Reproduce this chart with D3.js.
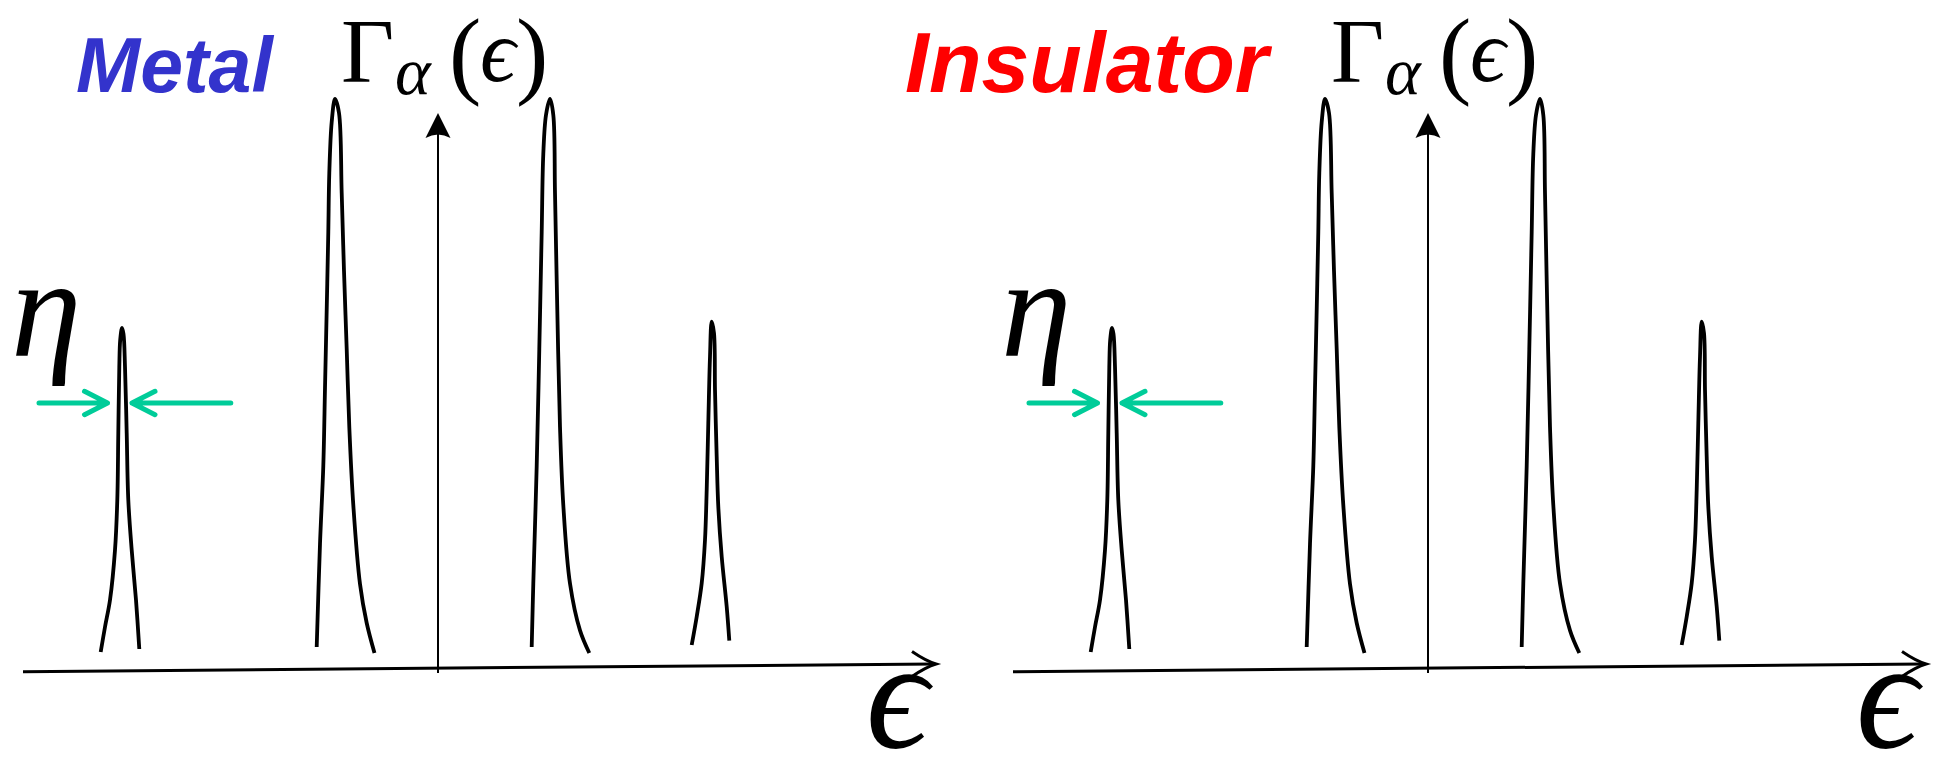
<!DOCTYPE html>
<html>
<head>
<meta charset="utf-8">
<script src="https://cdn.jsdelivr.net/npm/d3@7"></script>
<style>
  html, body { margin: 0; padding: 0; background: #fff; }
  svg { display: block; }
</style>
</head>
<body>
<svg id="chart" width="1935" height="757"></svg>
<script>
// Two panels: same set of broadened levels Γα(ϵ), labelled Metal / Insulator
const panelNames = ["Metal", "Insulator"];
const panelColors = ["#3333CC", "#FF0000"];

// Each peak outline as [energy, Γ] points, left foot -> tip -> right foot
const peak1 = [[-3.373,0.15],[-3.33,0.40],[-3.28,0.67],[-3.23,1.17],[-3.207,1.67],[-3.197,2.34],[-3.187,3.00],[-3.178,3.27],[-3.16,3.39],[-3.145,3.33],[-3.13,3.00],[-3.113,2.34],[-3.097,1.67],[-3.063,1.17],[-3.02,0.67],[-2.987,0.18]];
const peak2 = [[-1.213,0.20],[-1.18,1.23],[-1.147,2.01],[-1.13,2.79],[-1.113,3.57],[-1.097,4.35],[-1.087,4.94],[-1.063,5.45],[-1.03,5.68],[-0.99,5.54],[-0.963,4.74],[-0.94,3.96],[-0.913,3.18],[-0.887,2.40],[-0.847,1.62],[-0.78,0.83],[-0.713,0.44],[-0.635,0.14]];
const peak3 = [[0.937,0.20],[0.953,0.835],[0.987,2.01],[1.013,3.18],[1.037,4.35],[1.053,5.13],[1.08,5.52],[1.12,5.68],[1.153,5.52],[1.17,4.74],[1.193,3.57],[1.22,2.40],[1.253,1.62],[1.32,0.835],[1.42,0.366],[1.513,0.14]];
const peak4 = [[2.537,0.22],[2.587,0.503],[2.637,0.837],[2.67,1.27],[2.687,1.77],[2.703,2.437],[2.72,3.103],[2.737,3.453],[2.76,3.337],[2.77,2.77],[2.787,2.103],[2.803,1.603],[2.837,1.103],[2.887,0.603],[2.913,0.263]];
const peaks = [peak1, peak2, peak3, peak4];

// Energy axis ends (slightly sloped baseline) and Γ axis extent
const energyAxisEnds = [[-4.15, -0.047], [4.98, 0.03]];
const gammaAxisEnds = [[0, -0.06], [0, 5.54]];

// Width marker η around the first peak: [from energy, to energy] at a Γ level
const etaLevel = 2.64;
const etaArrows = [[-3.99, -3.305], [-2.072, -3.06]];

const panelOffset = 990;

const svg = d3.select("#chart");
svg.append("rect").attr("width", 1935).attr("height", 757).attr("fill", "#fff");

const x = d3.scaleLinear().domain([-4.15, 4.98]).range([23, 936]);
const y = d3.scaleLinear().domain([0, 5.54]).range([667, 113]);

const line = d3.line().x(d => x(d[0])).y(d => y(d[1])).curve(d3.curveCatmullRom.alpha(0.5));

const serif = "'Liberation Serif', 'DejaVu Serif', serif";

panelNames.forEach((name, i) => {
  const g = svg.append("g").attr("transform", `translate(${i * panelOffset},0)`);

  // energy axis
  const [a0, a1] = energyAxisEnds;
  g.append("line")
    .attr("x1", x(a0[0])).attr("y1", y(a0[1]))
    .attr("x2", x(a1[0]) - 2).attr("y2", y(a1[1]))
    .attr("stroke", "#000").attr("stroke-width", 3);
  const tx = x(a1[0]), ty = y(a1[1]);
  g.append("path")
    .attr("d", `M${tx - 24},${ty - 12.5} Q${tx - 10},${ty - 3} ${tx},${ty} Q${tx - 10},${ty + 3} ${tx - 24},${ty + 12.5}`)
    .attr("fill", "none").attr("stroke", "#000").attr("stroke-width", 3)
    .attr("stroke-linecap", "butt");

  // Γ axis
  const [v0, v1] = gammaAxisEnds;
  g.append("line")
    .attr("x1", x(v0[0])).attr("y1", y(v0[1]))
    .attr("x2", x(v1[0])).attr("y2", y(v1[1]) + 12)
    .attr("stroke", "#000").attr("stroke-width", 2);
  const vx = x(v1[0]), vy = y(v1[1]);
  g.append("path")
    .attr("d", `M${vx},${vy} L${vx + 12.5},${vy + 25} Q${vx},${vy + 18} ${vx - 12.5},${vy + 25} Z`)
    .attr("fill", "#000");

  // peaks
  g.selectAll("path.peak").data(peaks).join("path")
    .attr("class", "peak")
    .attr("d", line)
    .attr("fill", "none").attr("stroke", "#000")
    .attr("stroke-width", 3.8).attr("stroke-linejoin", "round").attr("stroke-linecap", "butt");

  // η width arrows
  const ey = y(etaLevel);
  etaArrows.forEach(([from, to]) => {
    const dir = Math.sign(to - from);
    const x0 = x(from), x1 = x(to);
    g.append("path")
      .attr("d", `M${x0},${ey} L${x1},${ey} M${x1 - dir * 23},${ey - 11.7} L${x1},${ey} L${x1 - dir * 23},${ey + 11.7}`)
      .attr("fill", "none").attr("stroke", "#00CC99").attr("stroke-width", 5)
      .attr("stroke-linecap", "round").attr("stroke-linejoin", "round");
  });

  // η label
  g.append("text").attr("x", 11).attr("y", 356)
    .attr("font-family", serif).attr("font-style", "italic").attr("font-size", 142)
    .text("η");

  // ϵ label on the energy axis
  g.append("text").attr("x", 866).attr("y", 747)
    .attr("font-family", serif).attr("font-style", "italic").attr("font-size", 154)
    .text("ϵ");

  // Γα(ϵ) label
  g.append("text").attr("x", 341).attr("y", 82)
    .attr("font-family", serif).attr("font-size", 92).text("Γ");
  g.append("text").attr("x", 395).attr("y", 94)
    .attr("font-family", serif).attr("font-style", "italic").attr("font-size", 68).text("α");
  g.append("text").attr("x", 449).attr("y", 86)
    .attr("font-family", serif).attr("font-size", 97).text("(");
  g.append("text").attr("x", 480).attr("y", 81)
    .attr("font-family", serif).attr("font-style", "italic").attr("font-size", 88).text("ϵ");
  g.append("text").attr("x", 516).attr("y", 86)
    .attr("font-family", serif).attr("font-size", 97).text(")");
});

// panel titles
svg.append("text").attr("x", 76).attr("y", 92)
  .attr("font-family", "'Liberation Sans', Arial, sans-serif")
  .attr("font-weight", "bold").attr("font-style", "italic").attr("font-size", 77)
  .attr("fill", panelColors[0]).text(panelNames[0]);
svg.append("text").attr("x", 905).attr("y", 92)
  .attr("font-family", "'Liberation Sans', Arial, sans-serif")
  .attr("font-weight", "bold").attr("font-style", "italic").attr("font-size", 86)
  .attr("fill", panelColors[1]).text(panelNames[1]);
</script>
</body>
</html>
